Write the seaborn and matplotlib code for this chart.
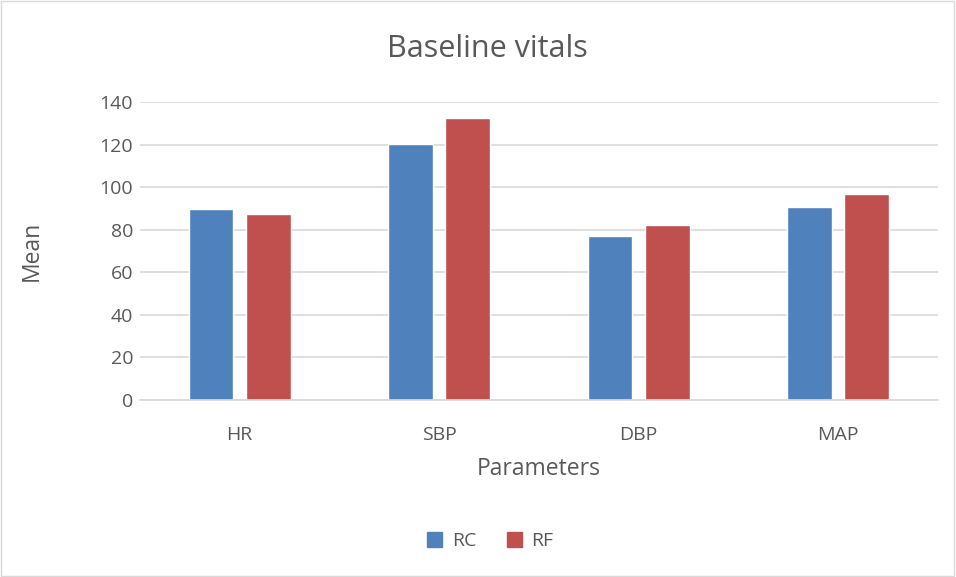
import pandas as pd
import matplotlib.pyplot as plt
import seaborn as sns
from matplotlib.patches import Rectangle

params = ['HR', 'SBP', 'DBP', 'MAP']
rc_mean = [89.7, 120.4, 77.0, 90.8]
rf_mean = [87.5, 132.3, 82.2, 96.9]
groups = ['RC', 'RF']
colors = ['#4F81BD', '#C0504D']

df = pd.DataFrame({
    'Parameters': params * 2,
    'Mean': rc_mean + rf_mean,
    'Group': [groups[0]] * len(params) + [groups[1]] * len(params),
})

sns.set_style('white')
plt.rcParams['font.family'] = ['Open Sans', 'DejaVu Sans']
txt = '#595959'

fig = plt.figure(figsize=(9.56, 5.77), dpi=100)
ax = fig.add_axes([0.1464, 0.3068, 0.8346, 0.5164])

sns.barplot(data=df, x='Parameters', y='Mean', hue='Group', palette=colors,
            width=0.575, gap=0.22, ax=ax, legend=False, saturation=1)

ax.set_ylim(0, 140)
ax.set_xlim(-0.5, 3.5)
ax.set_yticks(range(0, 141, 20))
ax.yaxis.grid(True, color='#D9D9D9', linewidth=1.2)
ax.set_axisbelow(True)
for s in ['top', 'right', 'left']:
    ax.spines[s].set_visible(False)
ax.spines['bottom'].set_color('#D9D9D9')
ax.spines['bottom'].set_linewidth(1.2)
ax.tick_params(axis='both', length=0, labelsize=14, labelcolor=txt)
ax.tick_params(axis='x', pad=19)
ax.tick_params(axis='y', pad=5)
ax.set_xlabel('Parameters', fontsize=16.5, color=txt, labelpad=9)
ax.set_ylabel('Mean', fontsize=16.5, color=txt, labelpad=40)

fig.text(0.51, 0.915, 'Baseline vitals', ha='center', va='center', fontsize=22, color=txt)

handles = [Rectangle((0, 0), 1, 1, color=c) for c in colors]
fig.legend(handles, groups, loc='center', bbox_to_anchor=(0.513, 0.062), ncol=2,
           frameon=False, fontsize=14, labelcolor=txt, handlelength=0.75,
           handleheight=0.75, columnspacing=1.6, handletextpad=0.5)

fig.patches.append(Rectangle((0.001, 0.002), 0.997, 0.996, transform=fig.transFigure,
                             fill=False, edgecolor='#D9D9D9', linewidth=1))

fig.savefig('out.png', dpi=100)
